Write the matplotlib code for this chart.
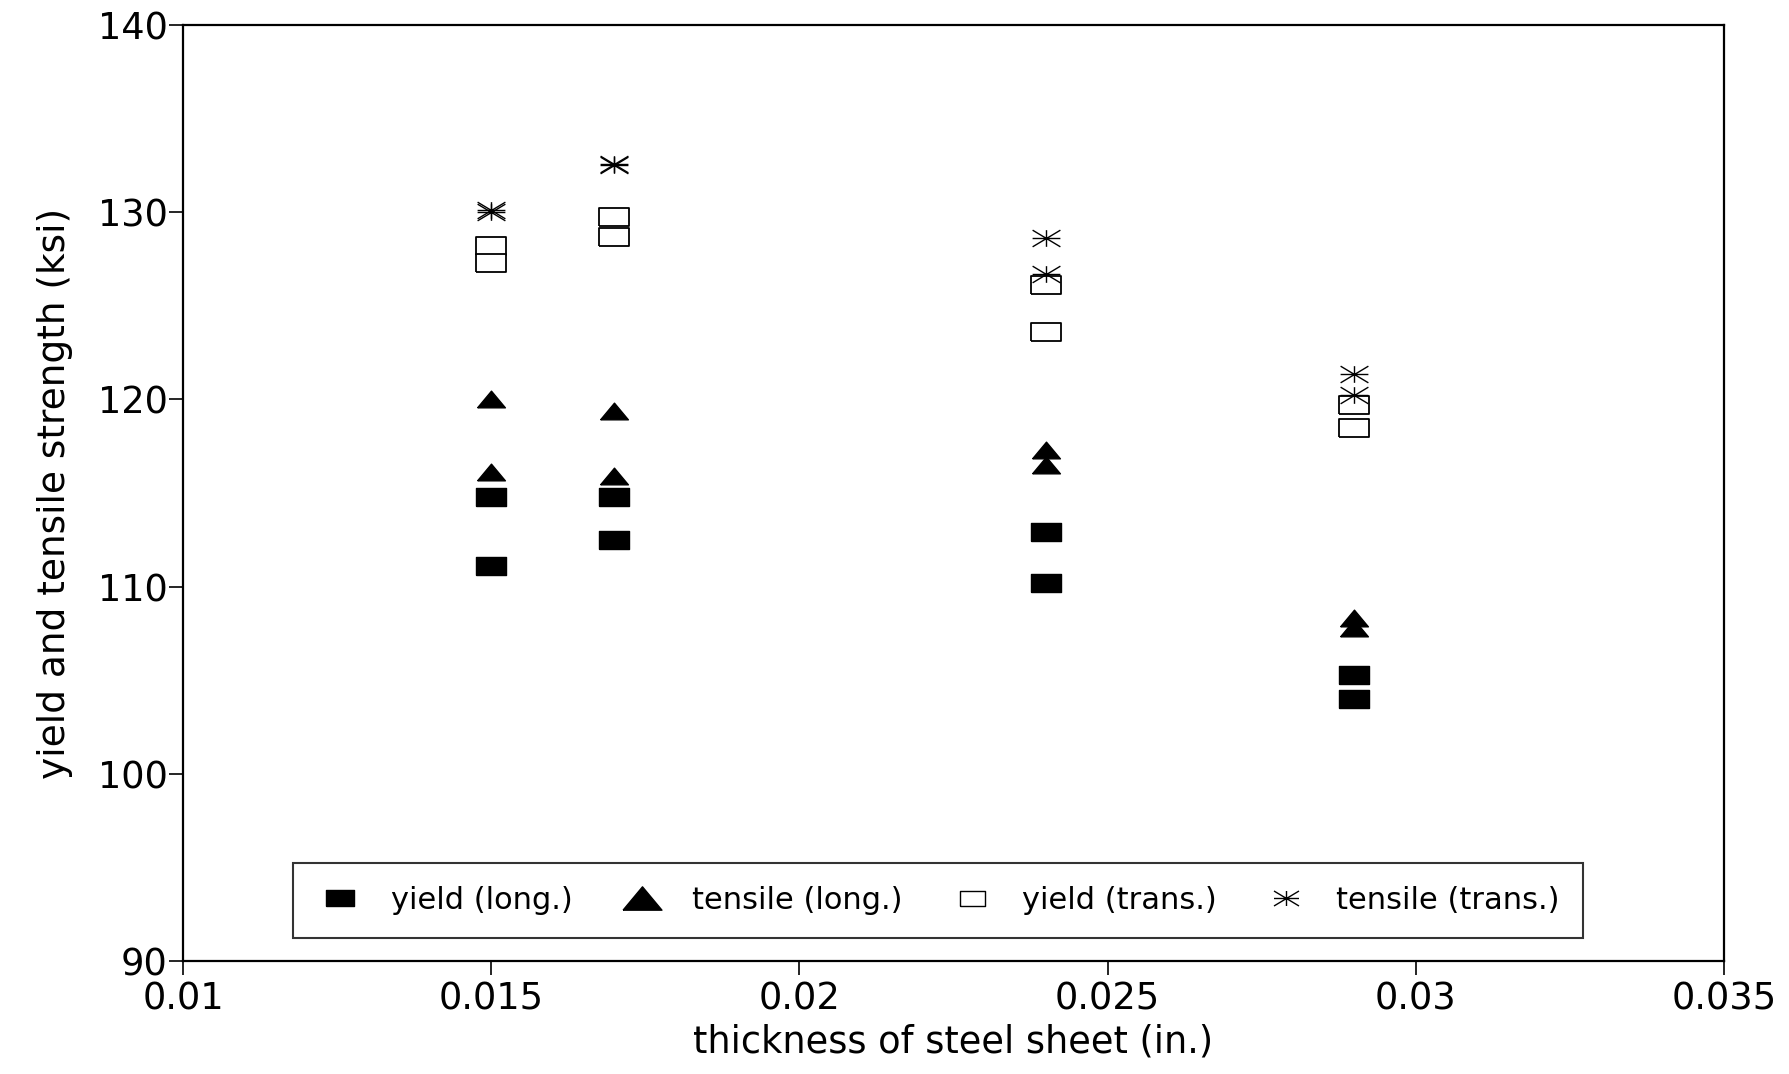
import matplotlib
matplotlib.use('Agg')
import matplotlib.pyplot as plt
from matplotlib.path import Path
from matplotlib.lines import Line2D
from matplotlib.ticker import FuncFormatter

# thickness (in.) and strengths (ksi)
thick = [0.015, 0.015, 0.017, 0.017, 0.024, 0.024, 0.029, 0.029]
yield_long = [114.8, 111.1, 114.8, 112.5, 112.9, 110.2, 105.3, 104.0]
tensile_long = [120.0, 116.1, 119.4, 115.9, 117.3, 116.5, 108.3, 107.8]
yield_trans = [128.2, 127.3, 129.75, 128.7, 126.1, 123.6, 119.7, 118.5]
tensile_trans = [130.0, 130.1, 132.5, 132.6, 128.6, 126.7, 121.35, 120.25]
labels = ['yield (long.)', 'tensile (long.)', 'yield (trans.)', 'tensile (trans.)']

plt.rcParams['font.family'] = ['DejaVu Sans']

# markers in the scan are squashed (wider than tall)
rect = [(-1, -0.6), (1, -0.6), (1, 0.6), (-1, 0.6), (-1, -0.6)]
tri = [(-1, -0.6), (1, -0.6), (0, 0.6), (-1, -0.6)]
star = Path([(-1, 0), (1, 0), (0, -0.6), (0, 0.6),
             (-1, -0.6), (1, 0.6), (-1, 0.6), (1, -0.6)],
            [Path.MOVETO, Path.LINETO] * 4)

fig = plt.figure(figsize=(17.9, 10.74), dpi=100)
ax = fig.add_axes([0.1022, 0.1052, 0.8609, 0.8715])

ax.plot(thick, yield_long, ls='none', marker=rect, ms=21, mfc='black', mec='black')
ax.plot(thick, tensile_long, ls='none', marker=tri, ms=20, mfc='black', mec='black')
ax.plot(thick, yield_trans, ls='none', marker=rect, ms=21, mfc='white', mec='black', mew=1.3)
ax.plot(thick, tensile_trans, ls='none', marker=star, ms=20, mec='black', mew=1.0, fillstyle='none')

ax.set_xlim(0.01, 0.035)
ax.set_ylim(90, 140)
ax.set_xticks([0.01, 0.015, 0.02, 0.025, 0.03, 0.035])
ax.set_yticks([90, 100, 110, 120, 130, 140])
ax.xaxis.set_major_formatter(FuncFormatter(lambda v, p: '%g' % v))
ax.tick_params(direction='out', length=10, width=1.2, labelsize=26.5, pad=1)
ax.tick_params(axis='x', pad=4)
for s in ax.spines.values():
    s.set_linewidth(1.6)

ax.set_xlabel('thickness of steel sheet (in.)', fontsize=26.5, labelpad=4)
ax.set_ylabel('yield and tensile strength (ksi)', fontsize=27, labelpad=18)

handles = [
    Line2D([], [], ls='none', marker=rect, ms=20, mfc='black', mec='black'),
    Line2D([], [], ls='none', marker=tri, ms=28, mfc='black', mec='black'),
    Line2D([], [], ls='none', marker=rect, ms=18, mfc='white', mec='black', mew=1.0),
    Line2D([], [], ls='none', marker=star, ms=18, mec='black', mew=1.0, fillstyle='none'),
]
leg = ax.legend(handles, labels, ncol=4, loc='lower left',
                bbox_to_anchor=(0.0714, 0.0246, 0.837, 0.077), mode='expand',
                fontsize=22, frameon=True, fancybox=False, edgecolor='black',
                borderpad=0.75, handletextpad=0.85, handlelength=1.6, borderaxespad=0)
leg.get_frame().set_linewidth(1.5)

fig.savefig('out.png', dpi=100)
